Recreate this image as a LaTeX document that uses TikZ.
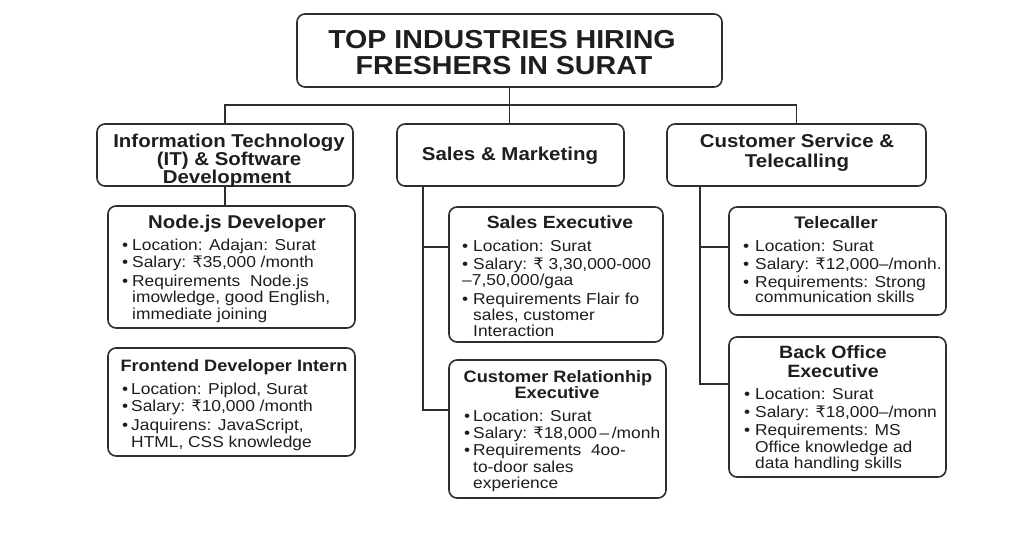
\documentclass[tikz,border=0pt]{standalone}
\usepackage{fontspec}
\setmainfont{Liberation Sans}[FakeStretch=1.1]
\newfontfamily\rsfont{DejaVu Sans}
\usetikzlibrary{calc}
\definecolor{ink}{HTML}{1E1E1E}
\definecolor{edgec}{HTML}{2E2E2E}
\newcommand\rupee{{\rsfont ₹}}
\newcommand\Ttext[5]{\node[#2, anchor=base] (#1) at (#3,#4) {#5};}
\newcommand\Btext[5]{\node[btxt, anchor=base west] (#1) at (#2,#4) {\makebox[\dimexpr #3pt-#2pt\relax][l]{•}#5};}
\newcommand\Ctext[4]{\node[btxt, anchor=base west] (#1) at (#2,#3) {#4};}
\tikzset{
  box/.style={draw=edgec, line width=1.6pt, rounded corners=8pt, fill=white, inner sep=0pt, outer sep=0pt, anchor=north west},
  conn/.style={draw=edgec, line width=1.3pt},
  ttl/.style={font=\fontsize{26}{27}\selectfont\bfseries, text=ink, inner sep=0pt},
  cat/.style={font=\fontsize{18.6}{19}\selectfont\bfseries, text=ink, inner sep=0pt},
  job/.style={font=\fontsize{#1}{#1}\selectfont\bfseries, text=ink, inner sep=0pt},
  btxt/.style={font=\fontsize{15.8}{17}\selectfont, text=ink, inner sep=0pt}
}
\begin{document}
\begin{tikzpicture}[x=1pt,y=-1pt]
\useasboundingbox (0,0) rectangle (1024,536);
\fill[white] (0,0) rectangle (1024,536);

% boxes
\node[box, minimum width=425pt, minimum height=73pt] (title) at (297,14) {};
\node[box, minimum width=256pt, minimum height=62pt] (it) at (97,124) {};
\node[box, minimum width=227pt, minimum height=62pt] (sm) at (397,124) {};
\node[box, minimum width=259pt, minimum height=62pt] (cs) at (667,124) {};
\node[box, minimum width=247pt, minimum height=122pt] (nj) at (108,206) {};
\node[box, minimum width=247pt, minimum height=108pt] (fe) at (108,348) {};
\node[box, minimum width=214pt, minimum height=135pt] (se) at (449,207) {};
\node[box, minimum width=217pt, minimum height=138pt] (cre) at (449,360) {};
\node[box, minimum width=217pt, minimum height=108pt] (tc) at (729,207) {};
\node[box, minimum width=217pt, minimum height=140pt] (bo) at (729,337) {};

% connectors
\coordinate (bus) at (0,105);
\draw[conn] (title.south) -- (title.south |- sm.north);
\draw[conn] (it.north) -- (it.north |- bus) -- (cs.north |- bus) -- (cs.north);
\draw[conn] (it.south) -- (it.south |- nj.north);
\coordinate (smt) at ($(sm.south west)+(26,0)$);
\draw[conn] (smt) |- ($(se.north west)+(0,40)$);
\draw[conn] (smt) |- ($(cre.north west)+(0,50)$);
\coordinate (cst) at ($(cs.south west)+(33,0)$);
\draw[conn] (cst) |- ($(tc.north west)+(0,40)$);
\draw[conn] (cst) |- ($(bo.north west)+(0,47)$);

% title
\Ttext{t1}{ttl}{502}{48}{TOP INDUSTRIES HIRING}
\Ttext{t2}{ttl}{504}{74}{FRESHERS IN SURAT}

% categories
\Ttext{it1}{cat}{229}{147}{Information Technology}
\Ttext{it2}{cat}{229}{165}{(IT) \& Software}
\Ttext{it3}{cat}{227}{183}{Development}
\Ttext{sm1}{cat}{510}{160}{Sales \& Marketing}
\Ttext{cs1}{cat}{797}{147}{Customer Service \&}
\Ttext{cs2}{cat}{797}{167}{Telecalling}

% Node.js
\Ttext{nj0}{job=18.5}{237}{228}{Node.js Developer}
\Btext{nj1}{122}{132}{250}{Location: Adajan: Surat}
\Btext{nj2}{122}{132}{267}{Salary: \rupee35,000 /month}
\Btext{nj3}{122}{132}{286}{Requirements\ \ Node.js}
\Ctext{nj4}{132}{302}{imowledge, good English,}
\Ctext{nj5}{132}{319}{immediate joining}

% Frontend
\Ttext{fe0}{job=16.5}{234}{371}{Frontend Developer Intern}
\Btext{fe1}{122}{131}{394}{Location: Piplod, Surat}
\Btext{fe2}{122}{131}{411}{Salary: \rupee10,000 /month}
\Btext{fe3}{122}{131}{430}{Jaquirens: JavaScript,}
\Ctext{fe4}{131}{447}{HTML, CSS knowledge}

% Sales Executive
\Ttext{se0}{job=17.6}{560}{228}{Sales Executive}
\Btext{se1}{462}{473}{251}{Location: Surat}
\Btext{se2}{462}{473}{269}{Salary: \rupee\ 3,30,000-000}
\Ctext{se3}{462}{285}{–7,50,000/gaa}
\Btext{se4}{462}{473}{304}{Requirements Flair fo}
\Ctext{se5}{473}{320}{sales, customer}
\Ctext{se6}{473}{336}{Interaction}

% Customer Relationship Executive
\Ttext{cr0}{job=16.5}{558}{382}{Customer Relationhip}
\Ttext{cr0b}{job=16.5}{557}{398}{Executive}
\Btext{cr1}{464}{473}{421}{Location: Surat}
\Btext{cr2}{464}{473}{438}{Salary: \rupee18,000\,–\,/monh}
\Btext{cr3}{464}{473}{455}{Requirements\ \ 4oo-}
\Ctext{cr4}{473}{472}{to-door sales}
\Ctext{cr5}{473}{488}{experience}

% Telecaller
\Ttext{tc0}{job=16.7}{836}{228}{Telecaller}
\Btext{tc1}{743}{755}{251}{Location: Surat}
\Btext{tc2}{743}{755}{269}{Salary: \rupee12,000–/monh.}
\Btext{tc3}{743}{755}{287}{Requirements: Strong}
\Ctext{tc4}{755}{302}{communication skills}

% Back Office
\Ttext{bo0}{job=17.8}{833}{358}{Back Office}
\Ttext{bo0b}{job=17.8}{833}{377}{Executive}
\Btext{bo1}{744}{755}{399}{Location: Surat}
\Btext{bo2}{744}{755}{417}{Salary: \rupee18,000–/monn}
\Btext{bo3}{744}{755}{435}{Requirements: MS}
\Ctext{bo4}{755}{452}{Office knowledge ad}
\Ctext{bo5}{755}{468}{data handling skills}
\end{tikzpicture}
\end{document}
